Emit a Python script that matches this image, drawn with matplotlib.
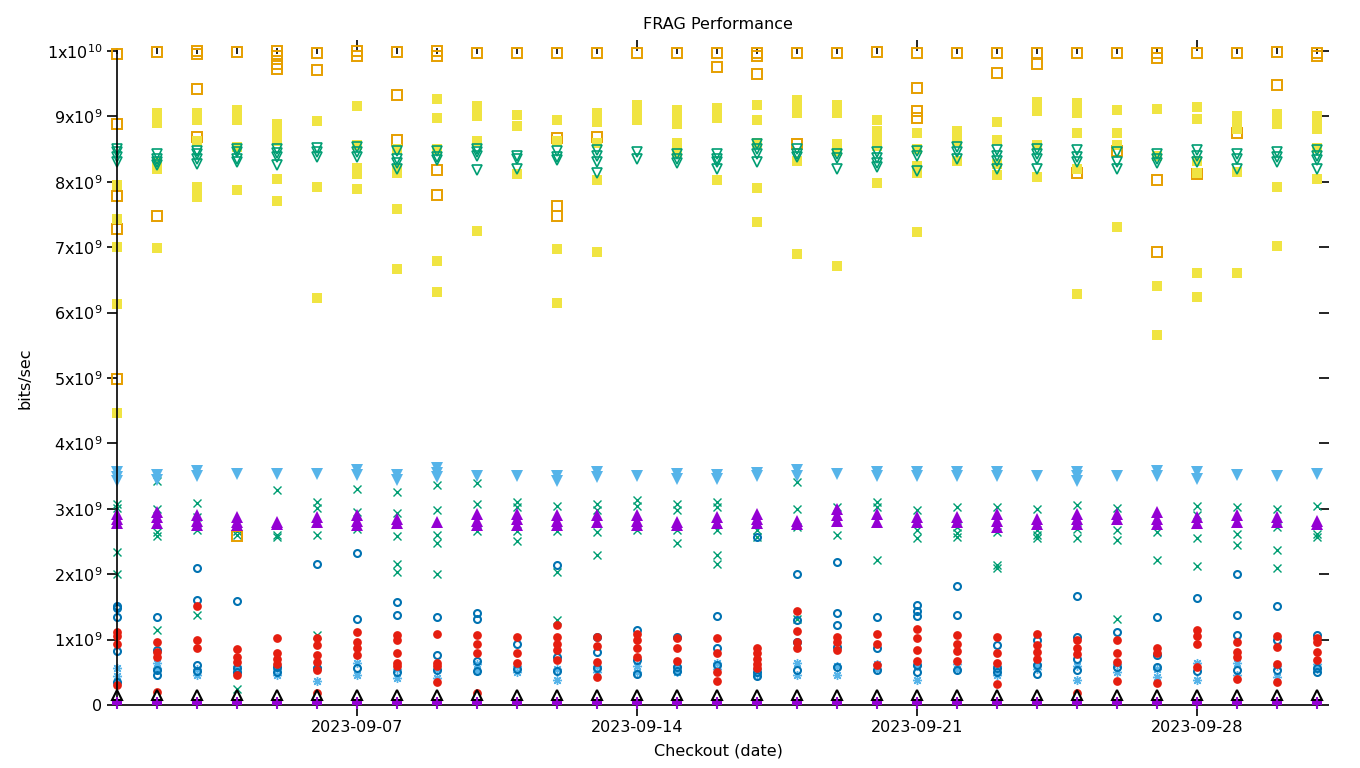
import matplotlib
matplotlib.use("Agg")
import matplotlib.pyplot as plt
import matplotlib.dates as mdates
import numpy as np
from datetime import datetime, timedelta

plt.rcParams['font.family'] = ['DejaVu Sans']

start_date = datetime(2023, 9, 1)
n_days = 31
dates = [start_date + timedelta(days=i) for i in range(n_days)]

# values in units of 1e9 bits/sec, one list per day
purple_plus = [[0.05, 0.02]] * n_days
green_x = [
    [3.08, 3.01, 2.34, 2.0], [3.42, 3.0, 2.65, 2.58, 1.15], [3.09, 2.88, 2.67, 1.38], [2.66, 2.6, 0.25],
    [3.28, 2.6, 2.57], [3.1, 3.01, 2.6, 1.07], [3.31, 2.95, 2.69], [3.26, 2.94, 2.59, 2.16, 2.04],
    [3.36, 2.98, 2.6, 2.48, 2.01], [3.4, 3.08, 2.66], [3.1, 3.03, 2.66, 2.51], [3.05, 2.66, 2.04, 1.3],
    [3.08, 2.98, 2.64, 2.3], [3.13, 3.05, 2.67], [3.08, 2.98, 2.67, 2.48], [3.1, 3.03, 2.67, 2.3, 2.16],
    [2.67, 2.57], [3.41, 3.0, 2.72, 1.31], [3.03, 2.6], [3.1, 3.03, 2.21],
    [2.98, 2.67, 2.56], [3.02, 2.72, 2.63, 2.57], [3.03, 2.65, 2.14, 2.09], [3.0, 2.67, 2.6, 2.55],
    [3.06, 2.69, 2.55], [3.01, 2.67, 2.52, 1.31], [2.65, 2.22], [3.05, 2.9, 2.56, 2.12],
    [3.03, 2.62, 2.45], [2.99, 2.72, 2.37, 2.09], [3.05, 2.62, 2.57],
]
lightblue_star = [
    [0.56, 0.45, 0.35], [0.64, 0.56], [0.55, 0.46], [0.6, 0.5], [0.55, 0.46], [0.58, 0.37], [0.64, 0.46],
    [0.55, 0.41], [0.55, 0.41], [0.62, 0.52], [0.6, 0.5], [0.55, 0.38], [0.6, 0.5], [0.6, 0.5], [0.6, 0.5],
    [0.64, 0.55], [0.55, 0.48], [0.64, 0.46], [0.6, 0.46], [0.62, 0.55], [0.6, 0.38], [0.62, 0.55],
    [0.6, 0.46], [0.62, 0.55], [0.6, 0.38], [0.62, 0.5], [0.55, 0.43], [0.64, 0.38], [0.64, 0.46],
    [0.6, 0.43], [0.62, 0.55],
]
orange_sq = [
    [9.96, 8.88, 7.79, 7.28, 4.99], [9.98, 7.48], [10.0, 9.95, 9.42, 8.69], [9.98, 2.58],
    [10.0, 9.92, 9.8, 9.72], [9.97, 9.71], [10.0, 9.93], [9.98, 9.33, 8.64],
    [10.0, 9.93, 8.18, 7.8], [9.97], [9.97], [9.97, 8.67, 7.63, 7.48],
    [9.97, 8.68], [9.97], [9.97], [9.97, 9.76],
    [9.97, 9.92, 9.65], [9.97, 8.58], [9.97], [9.98],
    [9.97, 9.43, 9.08, 8.98], [9.97], [9.97, 9.66], [9.97, 9.8],
    [9.97, 8.14], [9.97, 8.47], [9.97, 9.9, 8.02, 6.93], [9.97, 8.12],
    [9.97, 8.75], [9.98, 9.48], [9.97, 9.92],
]
yellow_sq = [
    [7.95, 7.43, 7.0, 6.13, 4.47], [9.05, 8.95, 8.9, 8.29, 8.2, 6.99], [9.05, 8.95, 8.63, 7.92, 7.77],
    [9.1, 8.95, 8.53, 7.88], [8.88, 8.73, 8.63, 8.05, 7.71], [8.93, 7.92, 6.23],
    [9.16, 8.57, 8.21, 8.12, 7.89], [8.5, 8.2, 8.13, 7.59, 6.67], [9.27, 8.98, 8.5, 6.79, 6.32],
    [9.16, 9.0, 8.63, 7.25], [9.02, 8.85, 8.12], [8.95, 8.63, 6.98, 6.14],
    [9.05, 8.92, 8.6, 8.03, 6.93], [9.18, 9.1, 8.95], [9.1, 8.96, 8.88, 8.6, 8.45],
    [9.13, 8.98, 8.02], [9.18, 8.95, 8.6, 7.9, 7.39], [9.25, 9.15, 9.05, 8.32, 6.89],
    [9.18, 9.05, 8.58, 8.47, 6.72], [8.95, 8.78, 8.65, 8.55, 7.98], [8.75, 8.5, 8.24, 8.14, 7.24],
    [8.78, 8.63, 8.32], [8.92, 8.64, 8.27, 8.1], [9.22, 9.08, 8.57, 8.08],
    [9.2, 9.05, 8.75, 8.2, 6.28], [9.1, 8.75, 8.57, 7.31], [9.11, 8.4, 6.4, 5.66],
    [9.15, 8.96, 8.32, 8.14, 6.6, 6.24], [9.0, 8.9, 8.8, 8.15, 6.6], [9.04, 8.96, 8.88, 7.92, 7.02],
    [9.0, 8.88, 8.8, 8.52, 8.05],
]
blue_circ = [
    [1.51, 1.49, 1.34, 0.82, 0.35], [1.34, 0.84, 0.53, 0.46], [2.09, 1.6, 0.61, 0.52], [1.59, 0.56, 0.5],
    [0.58, 0.51], [2.15, 0.56], [2.33, 1.31, 0.56], [1.57, 1.38, 0.5],
    [1.35, 0.77, 0.53], [1.4, 1.32, 0.68, 0.52], [0.93, 0.55], [2.14, 0.74, 0.52],
    [1.04, 0.81, 0.56], [1.15, 0.69, 0.48], [1.04, 0.58, 0.52], [1.36, 0.87, 0.61],
    [2.57, 0.51, 0.44], [2.01, 1.3, 0.97, 0.53], [2.19, 1.4, 1.22, 0.89, 0.58], [1.35, 0.87, 0.53],
    [1.53, 1.44, 1.36, 0.61, 0.51], [1.82, 1.38, 0.53], [0.91, 0.56, 0.51], [0.99, 0.61, 0.48],
    [1.66, 1.04, 0.71, 0.53], [1.12, 0.58], [1.35, 0.76, 0.58], [1.63, 0.52],
    [2.0, 1.38, 1.07, 0.53], [1.52, 0.99, 0.53], [1.07, 0.56, 0.51],
]
red_circ = [
    [1.12, 1.05, 0.94, 0.3], [0.96, 0.81, 0.74, 0.2], [1.51, 0.99, 0.87], [0.85, 0.74, 0.65, 0.46],
    [1.02, 0.79, 0.7, 0.63], [1.02, 0.92, 0.77, 0.65, 0.53, 0.18], [1.12, 0.97, 0.87, 0.76],
    [1.07, 0.99, 0.8, 0.64, 0.59], [1.09, 0.64, 0.59, 0.35], [1.07, 0.94, 0.8, 0.18],
    [1.04, 0.8, 0.64], [1.22, 1.04, 0.94, 0.84, 0.69], [1.04, 0.9, 0.66, 0.43],
    [1.09, 0.99, 0.87, 0.74], [1.03, 0.87, 0.67], [1.02, 0.79, 0.5, 0.36],
    [0.87, 0.79, 0.71, 0.62, 0.56], [1.44, 1.13, 0.97, 0.87], [1.04, 0.96, 0.84],
    [1.09, 0.94, 0.61], [1.16, 1.03, 0.84, 0.67], [1.07, 0.94, 0.82, 0.67],
    [1.04, 0.8, 0.64, 0.32], [1.08, 0.92, 0.81, 0.71], [0.99, 0.87, 0.78, 0.18],
    [0.99, 0.79, 0.66, 0.37], [0.87, 0.79, 0.33], [1.15, 1.05, 0.93, 0.58],
    [0.97, 0.81, 0.74, 0.4], [1.06, 0.88, 0.62, 0.35], [1.02, 0.97, 0.81, 0.69],
]
black_tri = [[0.16]] * n_days
purple_tri = [
    [2.92, 2.85, 2.78], [2.95, 2.88, 2.78], [2.9, 2.82, 2.75], [2.87, 2.8, 2.75], [2.8, 2.77],
    [2.88, 2.8], [2.9, 2.82, 2.75], [2.85, 2.78], [2.8], [2.92, 2.82, 2.75], [2.92, 2.85, 2.75],
    [2.9, 2.82, 2.75], [2.9, 2.8], [2.9, 2.82, 2.75], [2.8, 2.75], [2.87, 2.78], [2.92, 2.85, 2.78],
    [2.82, 2.76], [3.0, 2.9, 2.82], [2.92, 2.8], [2.87, 2.8], [2.88, 2.8], [2.92, 2.82, 2.72],
    [2.84, 2.77], [2.92, 2.85, 2.76], [2.92, 2.84], [2.95, 2.85, 2.77], [2.87, 2.78], [2.9, 2.8],
    [2.87, 2.8], [2.82, 2.77],
]
green_invtri = [
    [8.5, 8.45, 8.38, 8.3], [8.42, 8.35, 8.3, 8.25], [8.47, 8.42, 8.35, 8.27], [8.5, 8.45, 8.35, 8.3],
    [8.5, 8.44, 8.38, 8.26], [8.52, 8.45, 8.38], [8.53, 8.45, 8.38], [8.47, 8.35, 8.28, 8.2],
    [8.47, 8.38, 8.33], [8.5, 8.45, 8.4, 8.18], [8.4, 8.35, 8.2], [8.47, 8.38, 8.33],
    [8.48, 8.4, 8.3, 8.14], [8.45, 8.35], [8.42, 8.35, 8.28], [8.42, 8.35, 8.3, 8.2],
    [8.58, 8.5, 8.42, 8.3], [8.5, 8.43, 8.38], [8.43, 8.37, 8.2], [8.45, 8.37, 8.28, 8.22],
    [8.47, 8.4, 8.16], [8.53, 8.45, 8.35], [8.48, 8.4, 8.32, 8.2], [8.5, 8.42, 8.35, 8.2],
    [8.48, 8.38, 8.3], [8.45, 8.3, 8.2], [8.42, 8.35, 8.28], [8.48, 8.4, 8.3],
    [8.42, 8.35, 8.2], [8.46, 8.38, 8.3], [8.48, 8.4, 8.33, 8.2],
]
lightblue_invtri = [
    [3.56, 3.48, 3.42], [3.52, 3.44], [3.58, 3.5], [3.53], [3.53], [3.53], [3.6, 3.52], [3.52, 3.44],
    [3.62, 3.55, 3.48], [3.5], [3.5], [3.5, 3.43], [3.57, 3.48], [3.5], [3.53, 3.46], [3.52, 3.46],
    [3.55, 3.5], [3.6, 3.5], [3.53], [3.56, 3.5], [3.56, 3.5], [3.56, 3.5], [3.56, 3.5], [3.5],
    [3.57, 3.5, 3.43], [3.5], [3.58, 3.5], [3.56, 3.45], [3.52], [3.5], [3.53],
]

ytick_vals = list(range(0, 11))
ytick_labels = ['0'] + [r'$\mathregular{%dx10^{9}}$' % v for v in range(1, 10)] + [r'$\mathregular{1x10^{10}}$']

fig = plt.figure(figsize=(13.6, 7.68), dpi=100)
ax = fig.add_axes([117 / 1360, 1 - 705 / 768, (1319 - 117) / 1360, (705 - 51) / 768])

def flat(series):
    xs, ys = [], []
    for d, vals in zip(dates, series):
        for v in vals:
            xs.append(d)
            ys.append(v * 1e9)
    return xs, ys

styles = [
    (purple_plus, dict(marker='+', color='#9400D3', ms=7, mew=1.5, ls='none', zorder=5)),
    (green_x, dict(marker='x', color='#009E73', ms=5.5, mew=1.0, ls='none')),
    (lightblue_star, dict(marker=(8, 2, 0), color='#56B4E9', ms=6.5, mew=1.0, ls='none')),
    (orange_sq, dict(marker='s', mfc='none', mec='#E69F00', ms=6.5, mew=1.4, ls='none')),
    (yellow_sq, dict(marker='s', color='#F0E442', ms=6.8, mew=0, ls='none')),
    (blue_circ, dict(marker='o', mfc='none', mec='#0072B2', ms=5.0, mew=1.5, ls='none')),
    (red_circ, dict(marker='o', color='#E51E10', ms=6.3, mew=0, ls='none')),
    (black_tri, dict(marker='^', mfc='white', mec='black', ms=7, mew=1.5, ls='none')),
    (purple_tri, dict(marker='^', color='#9400D3', ms=8, mew=0, ls='none')),
    (green_invtri, dict(marker='v', mfc='none', mec='#009E73', ms=7.5, mew=1.2, ls='none')),
    (lightblue_invtri, dict(marker='v', color='#56B4E9', ms=8, mew=0, ls='none')),
]
for series, kw in styles:
    xs, ys = flat(series)
    ax.plot(xs, ys, clip_on=False, **kw)

ax.set_xlim(dates[0], dates[-1] + timedelta(hours=1))
ax.set_ylim(0, 1e10)
ax.set_yticks([v * 1e9 for v in ytick_vals])
ax.set_yticklabels(ytick_labels)

ax.xaxis.set_major_locator(mdates.DayLocator(bymonthday=[7, 14, 21, 28]))
ax.xaxis.set_major_formatter(mdates.DateFormatter('%Y-%m-%d'))
ax.xaxis.set_minor_locator(mdates.DayLocator())

for s in ['top', 'right']:
    ax.spines[s].set_visible(False)
for s in ['left', 'bottom']:
    ax.spines[s].set_linewidth(1.2)

ax.tick_params(axis='x', which='major', direction='out', length=8, width=1.2, top=True, bottom=True,
               labelsize=11.5, pad=3)
ax.tick_params(axis='x', which='minor', direction='inout', length=5, width=1.2, top=True, bottom=False)
ax.tick_params(axis='y', which='major', direction='out', length=7, width=1.2, left=True, right=True,
               labelsize=11.5)

ax.set_title('FRAG Performance', fontsize=11.5, pad=16)
ax.set_xlabel('Checkout (date)', fontsize=11.5, labelpad=6)
ax.set_ylabel('bits/sec', fontsize=11.5, labelpad=10)

fig.savefig('out.png', dpi=100)
